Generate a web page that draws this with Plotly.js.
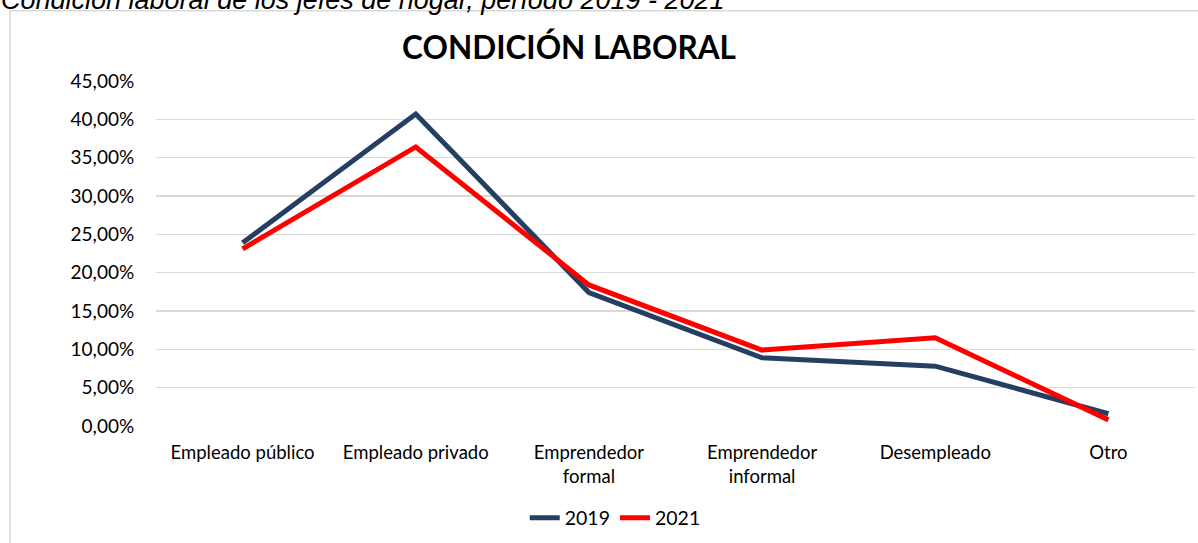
<!DOCTYPE html>
<html><head><meta charset="utf-8">
<script src="https://cdn.plot.ly/plotly-3.0.1.min.js"></script>
<style>html,body{margin:0;padding:0;background:#fff;}#c{width:1198px;height:543px;}</style>
</head><body><div id="c"></div>
<script>
const categories = ["Empleado público", "Empleado privado", "Emprendedor<br>formal", "Emprendedor<br>informal", "Desempleado", "Otro"];
const values2019 = [23.9, 40.7, 17.4, 8.9, 7.8, 1.6];
const values2021 = [23.1, 36.4, 18.4, 9.9, 11.5, 0.8];
const seriesNames = ["2019", "2021"];
const yTicks = [0, 5, 10, 15, 20, 25, 30, 35, 40, 45];
const yTickLabels = yTicks.map(v => v.toFixed(2).replace('.', ',') + '%');

const fontFam = "Lato, 'Open Sans', sans-serif";
const traces = [
  {x: categories, y: values2019, name: seriesNames[0], type: 'scatter', mode: 'lines',
   line: {color: '#243F62', width: 5}},
  {x: categories, y: values2021, name: seriesNames[1], type: 'scatter', mode: 'lines',
   line: {color: '#FF0000', width: 5}}
];
const layout = {
  width: 1198, height: 543,
  margin: {l: 156, r: 3, t: 81, b: 117},
  paper_bgcolor: '#fff', plot_bgcolor: '#fff',
  font: {family: fontFam, size: 18.5, color: '#000'},
  title: {text: '<b>CONDICIÓN LABORAL</b>', x: 0.475, xanchor: 'center', y: 0.911, yanchor: 'middle',
          font: {family: fontFam, size: 31.5, color: '#000'}},
  xaxis: {type: 'category', range: [-0.5, 5.5], showgrid: false, zeroline: false, showline: false,
          ticks: 'outside', ticklen: 10, tickcolor: 'rgba(0,0,0,0)',
          tickfont: {family: fontFam, size: 18.5, color: '#000'}, fixedrange: true},
  yaxis: {range: [0, 45], tickvals: yTicks, ticktext: yTickLabels,
          showgrid: true, gridcolor: '#D9D9D9', gridwidth: 1.5, zeroline: false, showline: false,
          ticks: 'outside', ticklen: 17, tickcolor: 'rgba(0,0,0,0)',
          tickfont: {family: fontFam, size: 19, color: '#000'}, fixedrange: true},
  showlegend: true,
  legend: {orientation: 'h', x: 0.442, xanchor: 'center', y: -0.21, yanchor: 'top',
           font: {family: fontFam, size: 19.5, color: '#000'}, itemwidth: 30, tracegroupgap: 0},
  shapes: [
    {type: 'rect', xref: 'paper', yref: 'paper', x0: -0.1405, x1: 1.005, y0: -0.4, y1: 1.2035,
     line: {color: '#D9D9D9', width: 1.5}, fillcolor: 'rgba(0,0,0,0)', layer: 'below'}
  ],
  annotations: [
    {text: '<i>Condición laboral de los jefes de hogar, período 2019 - 2021</i>', xref: 'paper', yref: 'paper',
     x: -0.151, xanchor: 'left', y: 1.236, yanchor: 'middle', showarrow: false,
     font: {family: "'Liberation Sans', Arial, sans-serif", size: 27, color: '#000'}}
  ]
};
Plotly.newPlot('c', traces, layout, {displayModeBar: false, staticPlot: true});
</script></body></html>
